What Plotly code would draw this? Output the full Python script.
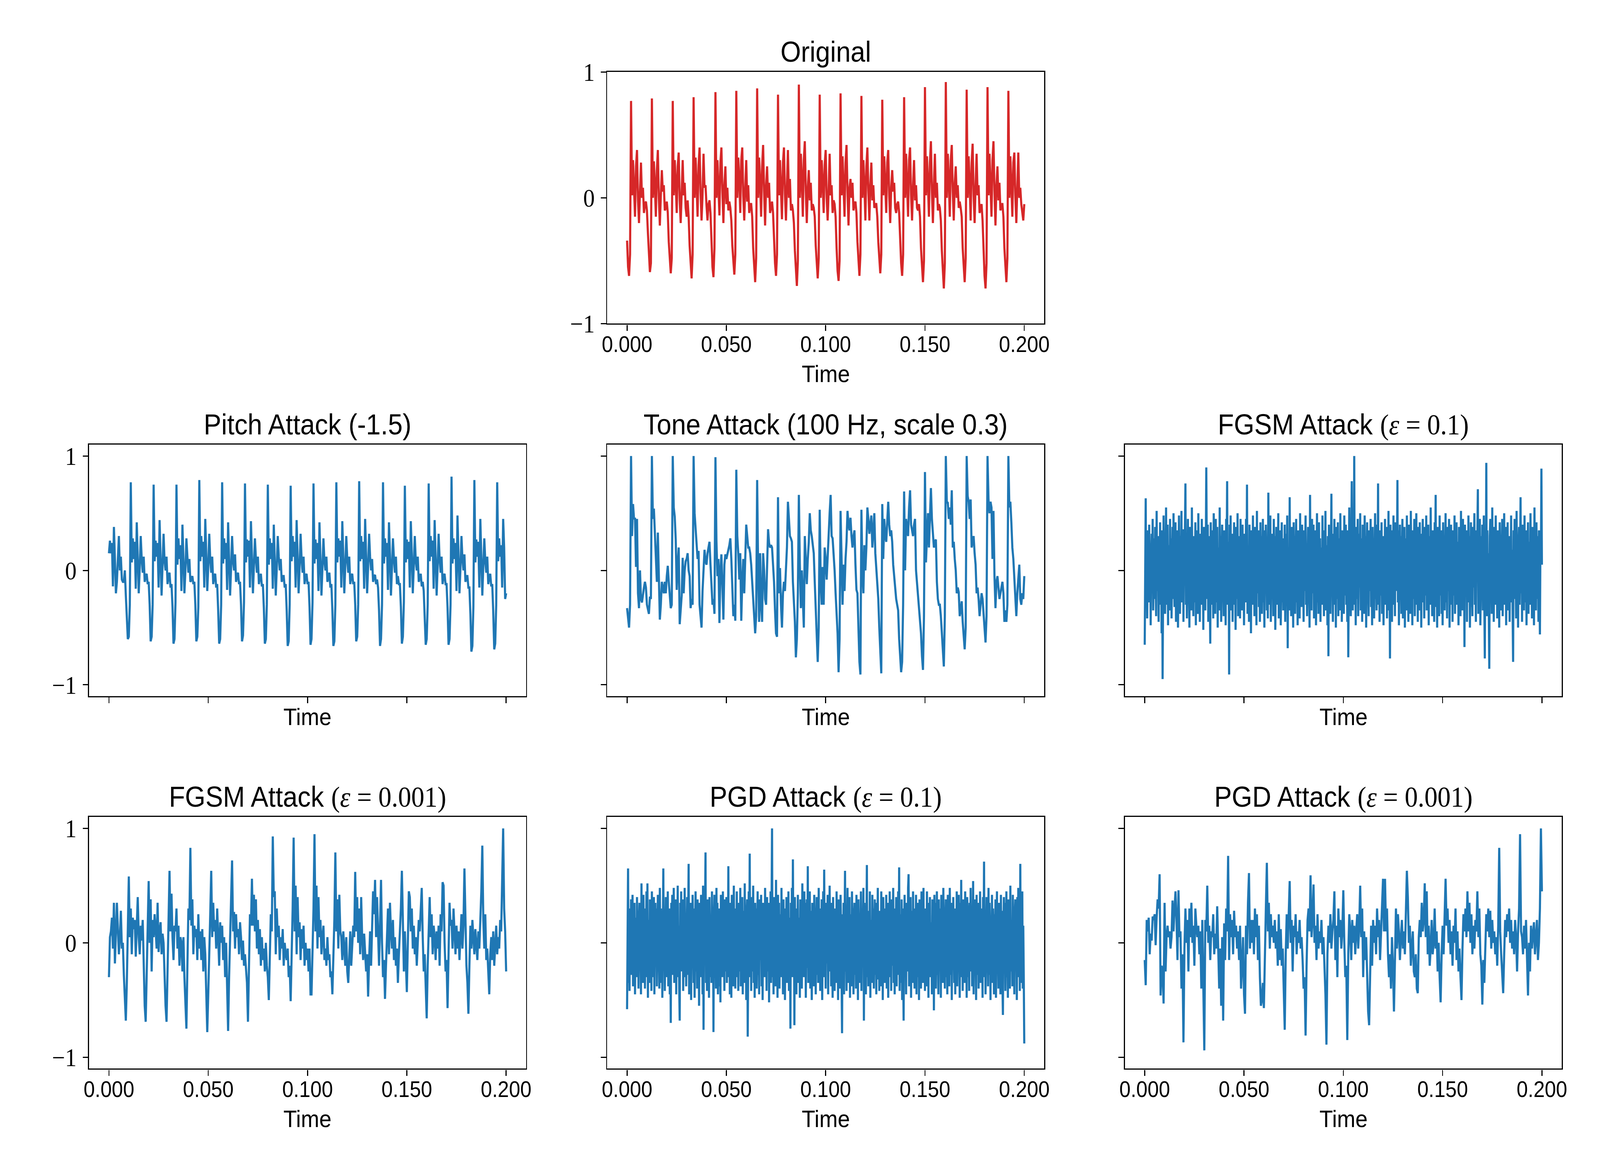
import numpy as np
import plotly.graph_objects as go

# waveforms, one sample every 0.5 ms over 0 .. 0.2 s
original = [
    -0.34, -0.55, -0.62, -0.45,
    0.77, 0.02, 0.30, 0.08, -0.15, 0.25, 0.38, -0.02, -0.20, 0.05, 0.28, 0.00, 0.08, -0.12, -0.05, -0.03, -0.10, -0.28, -0.45, -0.59, -0.52,
    0.79, 0.00, 0.29, 0.10, -0.15, 0.22, 0.38, 0.00, -0.22, 0.02, 0.22, 0.05, 0.10, -0.10, -0.08, -0.03, -0.12, -0.35, -0.50, -0.60, -0.48,
    0.77, 0.02, 0.30, 0.12, -0.12, 0.25, 0.36, -0.02, -0.20, 0.04, 0.30, 0.02, 0.12, -0.08, -0.15, -0.02, -0.15, -0.38, -0.55, -0.64, -0.45,
    0.80, 0.00, 0.32, 0.10, -0.15, 0.26, 0.40, 0.05, -0.18, 0.02, 0.35, 0.08, 0.10, -0.06, -0.18, -0.05, -0.02, -0.12, -0.40, -0.55, -0.63, -0.40,
    0.84, 0.00, 0.30, 0.12, -0.14, 0.28, 0.40, 0.05, -0.20, 0.10, 0.25, -0.05, 0.08, -0.10, -0.03, -0.08, -0.18, -0.38, -0.52, -0.61, -0.45,
    0.85, 0.00, 0.32, 0.15, -0.12, 0.30, 0.40, 0.02, -0.18, 0.08, 0.30, -0.03, 0.10, -0.12, -0.05, -0.05, -0.15, -0.40, -0.58, -0.67, -0.48,
    0.87, 0.00, 0.32, 0.12, -0.15, 0.25, 0.42, 0.05, -0.22, 0.10, 0.25, 0.00, 0.12, -0.12, -0.08, -0.03, -0.12, -0.35, -0.52, -0.62, -0.45,
    0.82, 0.02, 0.30, 0.10, -0.17, 0.28, 0.40, 0.03, -0.18, 0.10, 0.38, 0.00, 0.15, -0.10, -0.05, -0.10, -0.20, -0.42, -0.60, -0.70, -0.50,
    0.90, 0.00, 0.35, 0.15, -0.15, 0.30, 0.45, 0.05, -0.20, 0.08, 0.22, -0.02, 0.12, -0.10, -0.05, -0.08, -0.15, -0.38, -0.55, -0.64, -0.48,
    0.82, 0.00, 0.30, 0.12, -0.12, 0.26, 0.38, 0.00, -0.18, 0.05, 0.35, 0.02, 0.10, -0.12, -0.02, -0.05, -0.15, -0.40, -0.58, -0.66, -0.50,
    0.83, 0.02, 0.33, 0.12, -0.15, 0.28, 0.42, 0.05, -0.22, 0.08, 0.15, 0.00, 0.12, -0.10, -0.05, -0.03, -0.12, -0.35, -0.52, -0.62, -0.45,
    0.81, 0.00, 0.30, 0.10, -0.18, 0.25, 0.40, 0.05, -0.18, 0.10, 0.28, -0.02, 0.10, -0.08, -0.05, -0.05, -0.15, -0.35, -0.50, -0.60, -0.45,
    0.78, 0.02, 0.33, 0.10, -0.12, 0.28, 0.38, 0.02, -0.20, 0.08, 0.22, 0.05, 0.12, -0.08, -0.12, -0.05, -0.03, -0.12, -0.38, -0.52, -0.62, -0.45,
    0.80, 0.00, 0.35, 0.12, -0.15, 0.30, 0.40, 0.02, -0.18, 0.10, 0.30, -0.02, 0.10, -0.08, -0.10, -0.05, -0.15, -0.40, -0.58, -0.67, -0.50,
    0.88, 0.02, 0.33, 0.12, -0.15, 0.28, 0.45, 0.05, -0.20, 0.10, 0.35, 0.00, 0.12, -0.10, -0.05, -0.08, -0.18, -0.42, -0.62, -0.72, -0.52,
    0.92, 0.00, 0.35, 0.15, -0.15, 0.30, 0.42, 0.05, -0.18, 0.12, 0.25, 0.00, 0.10, -0.08, -0.03, -0.08, -0.15, -0.40, -0.58, -0.67, -0.48,
    0.86, 0.00, 0.33, 0.12, -0.18, 0.28, 0.43, 0.02, -0.20, 0.10, 0.35, 0.02, 0.10, -0.12, -0.08, -0.05, -0.18, -0.42, -0.62, -0.72, -0.52,
    0.88, 0.02, 0.35, 0.12, -0.15, 0.30, 0.45, 0.05, -0.22, 0.10, 0.25, -0.02, 0.12, -0.10, -0.05, -0.05, -0.15, -0.40, -0.58, -0.67, -0.48,
    0.85, 0.00, 0.33, 0.10, -0.15, 0.28, 0.36, 0.02, -0.20, 0.08, 0.36, 0.00, 0.08, -0.05, -0.12, -0.18, -0.05,
]

pitch_attack = [
    0.15, 0.26, 0.15, 0.24, -0.14, 0.38, 0.10, -0.20, -0.10, 0.10, 0.30, 0.00, 0.12, -0.08, -0.10, -0.10, 0.00, -0.22, -0.40, -0.60, -0.58, -0.30,
    0.77, 0.07, 0.28, 0.10, 0.25, -0.16, 0.42, 0.15, -0.20, 0.02, 0.30, 0.10, -0.02, 0.12, -0.10, -0.05, -0.03, -0.12, -0.10, -0.30, -0.62, -0.58, -0.30,
    0.75, 0.08, 0.26, 0.12, 0.24, -0.15, 0.44, 0.12, -0.22, 0.05, 0.32, 0.08, 0.00, 0.12, -0.12, -0.05, -0.02, -0.15, -0.12, -0.32, -0.64, -0.60, -0.28,
    0.75, 0.05, 0.28, 0.10, 0.22, -0.18, 0.40, 0.15, -0.20, 0.00, 0.28, 0.12, -0.02, 0.10, -0.10, -0.08, -0.05, -0.12, -0.10, -0.30, -0.62, -0.58, -0.32,
    0.79, 0.08, 0.30, 0.12, 0.25, -0.15, 0.45, 0.15, -0.18, 0.03, 0.32, 0.10, -0.02, 0.12, -0.12, -0.05, -0.03, -0.15, -0.12, -0.35, -0.64, -0.60, -0.30,
    0.77, 0.06, 0.28, 0.10, 0.24, -0.17, 0.42, 0.14, -0.22, 0.02, 0.30, 0.08, 0.00, 0.14, -0.10, -0.05, -0.02, -0.12, -0.10, -0.30, -0.62, -0.57, -0.28,
    0.76, 0.07, 0.27, 0.12, 0.26, -0.15, 0.43, 0.15, -0.20, 0.04, 0.28, 0.10, -0.02, 0.12, -0.12, -0.06, -0.03, -0.14, -0.12, -0.33, -0.64, -0.60, -0.30,
    0.75, 0.05, 0.28, 0.10, 0.24, -0.16, 0.40, 0.12, -0.22, 0.02, 0.30, 0.12, 0.00, 0.10, -0.10, -0.05, -0.05, -0.15, -0.12, -0.35, -0.66, -0.62, -0.30,
    0.74, 0.08, 0.30, 0.12, 0.25, -0.15, 0.44, 0.15, -0.20, 0.03, 0.32, 0.10, -0.02, 0.12, -0.12, -0.05, -0.03, -0.12, -0.10, -0.32, -0.65, -0.60, -0.28,
    0.76, 0.06, 0.27, 0.10, 0.24, -0.18, 0.42, 0.14, -0.22, 0.02, 0.28, 0.08, 0.00, 0.12, -0.10, -0.06, -0.02, -0.15, -0.12, -0.35, -0.66, -0.62, -0.30,
    0.77, 0.07, 0.28, 0.12, 0.26, -0.15, 0.43, 0.15, -0.20, 0.04, 0.30, 0.10, -0.02, 0.12, -0.12, -0.05, -0.03, -0.12, -0.10, -0.30, -0.62, -0.58, -0.30,
    0.78, 0.08, 0.30, 0.10, 0.25, -0.16, 0.45, 0.15, -0.20, 0.03, 0.32, 0.12, 0.00, 0.10, -0.10, -0.05, -0.04, -0.12, -0.08, -0.15, -0.35, -0.66, -0.60, -0.30,
    0.77, 0.06, 0.28, 0.12, 0.24, -0.17, 0.42, 0.14, -0.22, 0.02, 0.28, 0.10, -0.02, 0.12, -0.12, -0.05, -0.12, -0.12, -0.32, -0.64, -0.58, -0.28,
    0.74, 0.07, 0.27, 0.10, 0.25, -0.15, 0.43, 0.15, -0.20, 0.04, 0.30, 0.08, 0.00, 0.12, -0.10, -0.06, -0.03, -0.14, -0.10, -0.18, -0.38, -0.65, -0.60, -0.30,
    0.76, 0.08, 0.30, 0.12, 0.26, -0.16, 0.44, 0.15, -0.22, 0.03, 0.32, 0.10, -0.02, 0.12, -0.12, -0.05, -0.03, -0.12, -0.12, -0.33, -0.65, -0.60, -0.30,
    0.82, 0.06, 0.28, 0.10, 0.24, -0.18, 0.48, 0.18, -0.20, 0.02, 0.30, 0.10, 0.00, 0.14, -0.10, -0.05, -0.05, -0.15, -0.15, -0.38, -0.71, -0.66, -0.32,
    0.79, 0.07, 0.27, 0.12, 0.25, -0.15, 0.45, 0.15, -0.22, 0.04, 0.28, 0.08, -0.02, 0.12, -0.12, -0.06, -0.03, -0.14, -0.12, -0.36, -0.69, -0.64, -0.30,
    0.77, 0.08, 0.28, 0.12, 0.22, -0.15, 0.45, 0.20, -0.25, -0.20,
]

tone_attack = [
    -0.33, -0.42, -0.50, -0.30,
    1.00, 0.30, 0.58, 0.45, 0.46, 0.03, 0.45, -0.20, -0.33, 0.00, -0.25, -0.28, -0.20, -0.15, -0.10, -0.15, -0.30, -0.35, -0.38, -0.23, -0.25,
    1.00, 0.45, 0.54, 0.34, 0.10, -0.10, 0.33, 0.00, -0.43, -0.30, -0.10, -0.15, -0.20, -0.10, -0.20, -0.05, 0.04, -0.10, -0.25, -0.33, -0.30,
    1.00, 0.55, 0.47, 0.27, -0.17, 0.05, 0.20, -0.47, -0.30, -0.22, 0.11, -0.20, 0.00, 0.08, 0.10, 0.15, 0.00, -0.05, -0.33, -0.25, -0.30,
    1.00, 0.50, 0.36, 0.17, 0.10, 0.17, -0.30, -0.40, -0.50, -0.18, 0.05, 0.18, 0.08, 0.05, 0.15, 0.20, 0.25, 0.05, -0.15, -0.30, -0.25, -0.38,
    0.99, 0.26, -0.05, 0.10, -0.46, 0.00, 0.14, -0.20, -0.43, 0.05, 0.14, 0.10, 0.15, 0.18, 0.22, 0.28, 0.10, -0.15, -0.40, -0.30, -0.44,
    0.88, 0.30, 0.15, -0.08, 0.15, -0.44, -0.10, 0.10, -0.20, 0.10, 0.40, 0.30, 0.20, 0.20, 0.15, 0.05, -0.10, -0.20, -0.35, -0.55, -0.40,
    0.79, 0.00, -0.45, 0.15, -0.30, -0.45, 0.15, 0.00, -0.25, -0.30, 0.10, 0.36, 0.24, 0.20, 0.22, 0.20, 0.05, -0.10, -0.35, -0.55, -0.58,
    0.64, -0.20, 0.02, -0.30, -0.50, -0.20, -0.10, -0.18, 0.05, 0.20, 0.60, 0.40, 0.30, 0.28, 0.25, -0.10, -0.30, -0.45, -0.76, -0.60, -0.20,
    0.66, 0.05, -0.33, 0.00, -0.30, -0.50, 0.30, 0.05, -0.12, 0.10, 0.25, 0.50, 0.35, 0.30, 0.20, 0.15, -0.10, -0.35, -0.60, -0.80, -0.50,
    0.53, -0.10, -0.30, 0.03, -0.30, 0.20, 0.10, -0.08, 0.15, 0.35, 0.50, 0.66, 0.30, 0.28, 0.15, 0.00, -0.20, -0.40, -0.55, -0.89, -0.60,
    0.52, 0.00, -0.30, 0.05, -0.18, 0.10, 0.25, 0.52, 0.40, 0.35, 0.46, 0.30, 0.20, 0.30, 0.35, 0.05, -0.17, -0.20, -0.50, -0.80, -0.91,
    0.53, 0.00, -0.20, 0.22, 0.00, 0.20, 0.55, 0.45, 0.32, 0.40, 0.48, 0.20, 0.35, 0.50, 0.15, 0.00, -0.10, -0.25, -0.50, -0.75, -0.90,
    0.58, 0.10, 0.45, 0.30, 0.25, 0.40, 0.60, 0.40, 0.30, 0.35, 0.25, 0.05, -0.05, -0.20, -0.25, -0.30, -0.35, -0.60, -0.75, -0.89, -0.80, -0.30,
    0.69, 0.00, 0.45, 0.35, 0.30, 0.55, 0.70, 0.40, 0.35, 0.30, 0.40, 0.45, 0.00, -0.10, -0.20, -0.30, -0.45, -0.55, -0.75, -0.87, -0.40,
    0.86, 0.07, 0.35, 0.50, 0.20, 0.45, 0.72, 0.45, 0.30, 0.20, 0.25, 0.27, -0.10, -0.25, -0.30, -0.30, -0.40, -0.55, -0.70, -0.84, -0.40,
    1.00, 0.60, 0.59, 0.45, 0.55, 0.40, 0.70, 0.20, 0.25, 0.10, 0.00, -0.20, -0.15, -0.19, -0.40, -0.35, -0.27, -0.45, -0.55, -0.69, -0.50,
    1.00, 0.65, 0.60, 0.45, 0.62, 0.20, 0.25, 0.30, 0.15, 0.05, -0.20, -0.15, -0.25, -0.40, -0.30, -0.20, -0.25, -0.38, -0.55, -0.63, -0.40,
    1.00, 0.62, 0.50, 0.60, 0.55, 0.10, 0.52, -0.05, -0.33, -0.10, -0.05, -0.15, -0.25, -0.20, -0.15, -0.10, -0.20, -0.45, -0.35, -0.45, -0.30,
    1.00, 0.55, 0.60, 0.42, 0.20, 0.10, -0.10, -0.30, -0.40, -0.20, -0.10, 0.05, -0.25, -0.30, -0.20, -0.25, -0.05,
]

# the two strong attacks are dense noise bands: read at 0.25 ms steps
fgsm_eps_01 = [
    -0.65, 0.20, 0.63, -0.30, 0.15, -0.42, 0.35, 0.05, -0.28, 0.40, -0.15, 0.22, -0.48, 0.10, 0.32, -0.20, 0.45, -0.35, 0.05, 0.28,
    -0.25, 0.38, -0.10, -0.40, 0.52, -0.18, 0.12, 0.30, -0.45, 0.25, -0.05, 0.42, -0.30, 0.18, -0.55, 0.35, -0.95, 0.10, 0.48, -0.22,
    0.30, -0.38, 0.15, 0.55, -0.12, -0.30, 0.40, -0.48, 0.22, 0.05, -0.35, 0.45, -0.15, 0.28, -0.42, 0.12, 0.38, -0.25, 0.50, -0.08,
    -0.32, 0.20, 0.42, -0.45, 0.10, -0.20, 0.35, -0.50, 0.25, 0.48, -0.10, -0.38, 0.30, -0.15, 0.52, -0.28, 0.08, 0.36, -0.45, 0.18,
    -0.05, 0.40, 0.76, -0.30, 0.12, -0.42, 0.28, 0.45, -0.20, 0.05, -0.50, 0.38, -0.12, 0.25, -0.35, 0.55, -0.08, 0.15, -0.40, 0.30,
    0.10, -0.28, 0.42, -0.48, 0.20, 0.35, -0.15, -0.38, 0.50, -0.05, 0.22, -0.45, 0.32, 0.08, -0.30, 0.45, -0.22, 0.12, -0.52, 0.38,
    -0.10, 0.28, -0.35, 0.15, 0.90, 0.20, -0.25, 0.40, -0.45, 0.10, 0.30, -0.20, -0.64, 0.42, 0.05, 0.35, -0.30, 0.18, -0.42, 0.50,
    -0.15, 0.25, -0.38, 0.45, 0.02, -0.28, 0.38, -0.50, 0.20, 0.12, -0.35, 0.55, -0.10, 0.30, -0.45, 0.15, 0.40, -0.25, 0.08, -0.40,
    0.35, -0.12, 0.28, -0.48, 0.45, 0.10, 0.78, -0.30, -0.05, 0.25, -0.91, 0.40, -0.20, 0.48, -0.35, 0.15, 0.32, -0.45, 0.22, -0.10,
    0.42, -0.30, 0.12, -0.52, 0.38, 0.05, -0.25, 0.50, -0.40, 0.18, 0.30, -0.15, -0.42, 0.45, -0.08, 0.25, -0.35, 0.40, -0.20, 0.10,
    -0.48, 0.32, 0.15, -0.28, 0.45, -0.12, 0.75, -0.38, 0.20, 0.05, -0.45, 0.40, -0.18, 0.28, -0.55, 0.35, 0.08, -0.30, 0.48, -0.22,
    0.12, -0.40, 0.38, -0.05, 0.25, -0.48, 0.52, -0.20, 0.10, 0.35, -0.32, 0.18, -0.45, 0.42, -0.12, 0.30, -0.38, 0.05, 0.45, -0.28,
    0.20, -0.50, 0.35, -0.15, 0.40, 0.08, -0.35, 0.28, -0.42, 0.68, -0.10, 0.22, -0.30, 0.48, -0.45, 0.15, 0.32, -0.25, 0.05, -0.40,
    0.45, -0.18, 0.30, -0.52, 0.12, 0.38, -0.30, 0.20, -0.05, 0.50, -0.42, 0.25, -0.15, 0.35, -0.48, 0.10, 0.42, -0.28, 0.18, -0.35,
    0.28, -0.10, 0.40, -0.45, 0.15, 0.32, -0.22, 0.48, -0.68, 0.20, 0.05, -0.35, 0.64, -0.25, 0.12, -0.40, 0.38, -0.08, 0.25, -0.50,
    0.42, -0.15, 0.30, -0.38, 0.10, 0.45, -0.28, 0.18, -0.48, 0.35, -0.05, 0.22, -0.42, 0.50, -0.20, 0.12, -0.32, 0.40, -0.10, 0.28,
    -0.45, 0.35, -0.18, 0.08, 0.48, -0.30, 0.22, -0.40, 0.15, 0.38, -0.25, 0.05, -0.50, 0.66, -0.12, 0.30, -0.35, 0.45, -0.20, 0.10,
    0.40, -0.42, 0.25, -0.08, 0.35, -0.48, 0.18, 0.50, -0.28, 0.12, -0.38, 0.42, -0.15, 0.28, -0.45, 0.20, 0.05, -0.30, 0.48, -0.22,
    0.15, -0.40, 0.35, -0.10, 0.52, -0.35, 0.22, 0.08, -0.48, 0.30, -0.75, 0.40, -0.15, 0.25, -0.38, 0.45, 0.67, -0.20, 0.10, -0.45,
    0.32, -0.12, 0.45, -0.30, 0.18, -0.50, 0.38, 0.05, -0.25, 0.42, -0.40, 0.15, 0.28, -0.35, 0.50, -0.08, 0.20, -0.45, 0.35, -0.15,
    0.25, -0.38, 0.48, -0.22, 0.10, 0.40, -0.30, 0.15, -0.45, 0.35, -0.76, 0.20, 0.55, -0.15, 0.30, -0.40, 0.45, 0.78, -0.10, -0.35,
    0.25, -0.20, 1.00, -0.30, 0.15, -0.48, 0.38, 0.05, -0.25, 0.45, -0.40, 0.20, 0.32, -0.15, 0.50, -0.35, 0.10, 0.28, -0.45, 0.40,
    -0.12, 0.22, -0.38, 0.48, -0.05, 0.30, -0.50, 0.15, 0.42, -0.28, 0.08, -0.40, 0.35, -0.18, 0.25, 0.45, -0.32, 0.12, -0.48, 0.38,
    -0.10, 0.28, -0.42, 0.20, 0.50, -0.25, 0.15, -0.35, 0.40, -0.05, 0.76, -0.30, 0.18, -0.45, 0.35, 0.08, -0.22, 0.42, -0.38, 0.12,
    0.30, -0.48, 0.25, -0.15, 0.45, -0.30, 0.05, 0.38, -0.42, 0.20, -0.10, 0.52, -0.35, 0.15, -0.77, 0.40, -0.20, 0.28, -0.45, 0.35,
    -0.05, 0.48, -0.30, 0.12, -0.40, 0.42, -0.18, 0.25, 0.05, 0.79, -0.28, 0.35, -0.48, 0.15, 0.40, -0.22, 0.30, -0.38, 0.10, 0.45,
    -0.42, 0.20, -0.12, 0.38, -0.50, 0.28, 0.08, -0.35, 0.48, -0.20, 0.15, -0.45, 0.40, -0.05, 0.30, -0.38, 0.52, -0.15, 0.22, -0.48,
    0.35, -0.25, 0.10, 0.45, -0.40, 0.18, -0.30, 0.50, -0.10, 0.28, -0.45, 0.38, 0.05, -0.35, 0.42, -0.18, 0.25, -0.50, 0.32, -0.08,
    0.45, -0.28, 0.15, -0.42, 0.38, 0.10, -0.22, 0.48, -0.35, 0.20, -0.12, 0.40, -0.48, 0.30, 0.05, -0.30, 0.55, -0.20, 0.12, -0.40,
    0.35, -0.15, 0.25, -0.45, 0.42, 0.08, 0.66, -0.32, 0.18, -0.50, 0.38, -0.05, 0.28, -0.40, 0.48, -0.22, 0.10, 0.35, -0.38, 0.15,
    -0.48, 0.42, -0.10, 0.30, -0.35, 0.20, 0.50, -0.28, 0.05, -0.42, 0.38, -0.18, 0.25, 0.45, -0.50, 0.12, -0.30, 0.40, -0.08, 0.28,
    -0.45, 0.35, 0.15, -0.22, 0.48, -0.38, 0.10, -0.15, 0.42, -0.30, 0.25, 0.05, -0.48, 0.38, -0.12, 0.30, -0.40, 0.52, -0.20, 0.18,
    -0.35, 0.45, -0.05, 0.25, -0.67, 0.40, -0.18, 0.12, 0.35, -0.45, 0.20, -0.28, 0.48, -0.10, 0.30, -0.50, 0.15, 0.42, -0.32, 0.08,
    -0.40, 0.38, -0.15, 0.25, 0.50, -0.30, 0.12, -0.45, 0.35, -0.05, 0.28, 0.71, -0.38, 0.20, -0.25, 0.45, -0.48, 0.15, 0.30, -0.20,
    0.40, -0.35, 0.10, 0.48, -0.28, -0.77, 0.25, -0.12, 0.94, -0.40, 0.35, -0.20, 0.15, -0.50, -0.86, 0.30, 0.45, -0.25, 0.12, -0.38,
    0.55, -0.15, 0.28, -0.45, 0.38, 0.05, -0.30, 0.48, -0.20, 0.18, -0.42, 0.35, -0.08, 0.25, -0.50, 0.42, -0.12, 0.30, -0.35, 0.15,
    0.45, -0.40, 0.20, -0.18, 0.50, -0.30, 0.10, 0.38, -0.48, 0.25, -0.05, 0.42, -0.35, 0.15, 0.30, -0.45, 0.22, -0.12, 0.48, -0.28,
    0.18, -0.38, -0.80, 0.35, -0.10, 0.45, -0.25, 0.12, -0.42, 0.52, -0.15, 0.28, -0.50, 0.20, 0.38, -0.30, 0.08, 0.64, -0.20, 0.30,
    -0.45, 0.40, -0.12, 0.22, -0.35, 0.48, -0.28, 0.10, 0.35, -0.48, 0.18, -0.05, 0.42, -0.38, 0.25, 0.15, -0.30, 0.50, -0.20, 0.12,
    -0.42, 0.38, -0.15, 0.28, -0.48, 0.55, -0.10, 0.20, -0.35, 0.42, -0.25, 0.12, 0.30, -0.45, 0.35, -0.18, -0.56, 0.25, 0.10, 0.89,
    0.05,
]

pgd_eps_01 = [
    -0.58, 0.15, 0.65, -0.35, 0.20, -0.42, 0.30, -0.10, 0.38, -0.28, 0.12, 0.42, -0.38, 0.05, -0.25, 0.35, -0.45, 0.22, 0.10, -0.30,
    0.40, -0.15, 0.28, -0.40, 0.18, 0.35, -0.22, 0.05, -0.45, 0.52, -0.12, 0.25, -0.35, 0.42, -0.05, 0.15, -0.40, 0.30, -0.20, 0.45,
    -0.30, 0.52, -0.48, 0.20, 0.08, -0.35, 0.38, -0.15, 0.28, -0.42, 0.45, -0.08, 0.22, -0.30, 0.40, -0.45, 0.12, 0.35, -0.20, 0.30,
    -0.38, 0.15, 0.42, -0.25, 0.05, -0.40, 0.48, -0.12, 0.30, -0.35, 0.20, -0.48, 0.38, 0.65, -0.18, 0.25, -0.42, 0.10, 0.40, -0.30,
    0.22, -0.15, 0.45, -0.38, 0.12, 0.30, -0.45, 0.18, -0.70, 0.35, -0.05, 0.42, -0.28, 0.20, 0.48, -0.35, 0.10, -0.22, 0.38, -0.45,
    0.28, -0.12, 0.50, -0.30, 0.15, -0.40, -0.68, 0.35, -0.05, 0.45, -0.25, 0.20, 0.38, -0.42, 0.10, -0.30, 0.48, -0.18, 0.25, -0.38,
    0.12, 0.40, -0.28, 0.22, 0.69, -0.45, 0.18, -0.10, 0.35, -0.50, 0.28, -0.20, 0.42, 0.05, -0.35, 0.30, -0.48, 0.15, 0.45, -0.25,
    0.20, -0.40, 0.38, -0.12, 0.28, -0.55, 0.35, 0.10, -0.30, 0.42, -0.20, 0.15, -0.45, 0.50, -0.76, 0.25, -0.10, 0.30, 0.79, -0.35,
    0.15, -0.42, 0.38, -0.20, 0.28, -0.48, 0.40, 0.05, -0.30, 0.22, -0.35, 0.45, -0.15, 0.30, -0.78, 0.18, 0.42, -0.25, 0.10, -0.40,
    0.48, -0.22, 0.35, -0.45, 0.12, 0.30, -0.38, 0.20, -0.52, 0.42, -0.08, 0.25, -0.30, 0.45, -0.18, 0.10, -0.42, 0.38, -0.25, 0.15,
    0.40, -0.35, 0.22, -0.10, 0.67, -0.30, 0.18, -0.45, 0.35, 0.05, -0.48, 0.42, -0.15, 0.28, -0.38, 0.50, -0.20, 0.12, -0.40, 0.30,
    -0.08, 0.45, -0.30, 0.20, -0.42, 0.35, 0.10, -0.25, 0.48, -0.38, 0.15, -0.12, 0.40, -0.45, 0.28, 0.05, -0.35, 0.52, -0.20, 0.30,
    -0.50, 0.25, 0.38, -0.82, 0.15, 0.45, -0.30, 0.78, -0.10, 0.28, -0.42, 0.40, -0.25, 0.12, 0.50, -0.35, 0.20, -0.48, 0.35, -0.05,
    0.30, -0.40, 0.22, 0.45, -0.28, 0.10, -0.45, 0.38, -0.15, 0.25, 0.42, -0.38, 0.18, -0.50, 0.35, -0.12, 0.28, -0.30, 0.48, -0.20,
    0.10, -0.42, 0.40, -0.25, 0.15, 0.35, -0.52, 0.20, -0.08, 0.45, -0.35, 0.28, 1.00, -0.30, 0.22, -0.45, 0.40, -0.15, 0.30, -0.38,
    0.55, -0.20, 0.12, -0.48, 0.42, -0.10, 0.35, -0.40, 0.25, 0.05, -0.30, 0.48, -0.18, 0.28, -0.45, 0.38, -0.12, 0.20, -0.50, 0.30,
    -0.05, 0.40, -0.35, 0.15, -0.25, 0.45, -0.42, 0.22, 0.10, -0.75, 0.35, -0.18, 0.48, -0.30, 0.73, -0.10, 0.25, -0.72, 0.40, -0.20,
    0.15, -0.45, 0.30, -0.12, 0.42, -0.35, 0.22, 0.05, -0.48, 0.38, -0.20, 0.28, -0.40, 0.52, -0.15, 0.10, -0.30, 0.45, -0.25, 0.35,
    -0.48, 0.12, 0.38, -0.22, 0.67, -0.35, 0.20, -0.10, 0.45, -0.40, 0.28, 0.05, -0.50, 0.35, -0.15, 0.25, -0.38, 0.42, -0.08, 0.30,
    -0.45, 0.18, 0.40, -0.28, 0.12, -0.35, 0.48, -0.20, 0.30, -0.42, 0.22, -0.05, 0.38, -0.50, 0.15, 0.45, -0.30, 0.64, -0.12, 0.25,
    -0.40, 0.35, -0.18, 0.10, 0.42, -0.45, 0.28, -0.25, 0.50, -0.08, 0.20, -0.38, 0.35, 0.12, -0.48, 0.40, -0.15, 0.25, -0.42, 0.30,
    0.05, -0.35, 0.45, -0.20, 0.18, -0.50, 0.38, -0.10, 0.28, -0.40, 0.42, 0.15, -0.30, -0.79, 0.25, -0.15, 0.35, -0.45, 0.10, 0.63,
    -0.25, 0.30, -0.42, 0.18, 0.48, -0.35, 0.12, -0.20, 0.40, -0.48, 0.25, 0.05, -0.38, 0.45, -0.12, 0.30, -0.45, 0.22, 0.35, -0.28,
    0.15, -0.40, 0.42, -0.10, 0.28, -0.50, 0.38, 0.08, -0.35, 0.20, -0.25, 0.45, -0.42, 0.30, -0.15, 0.12, 0.48, -0.68, 0.35, -0.20,
    0.22, -0.45, 0.40, 0.68, -0.30, 0.10, -0.38, 0.28, -0.15, 0.45, -0.48, 0.20, 0.05, -0.35, 0.42, -0.22, 0.30, -0.40, 0.15, 0.38,
    -0.28, 0.12, -0.45, 0.35, -0.08, 0.48, -0.32, 0.20, -0.42, 0.28, 0.10, -0.38, 0.45, -0.18, 0.25, -0.50, 0.40, -0.05, 0.30, -0.35,
    0.18, -0.25, 0.42, -0.40, 0.15, 0.35, -0.48, 0.22, -0.12, 0.45, -0.30, 0.10, -0.42, 0.38, -0.20, 0.28, 0.48, -0.35, 0.05, -0.45,
    0.30, -0.15, 0.40, -0.38, 0.20, -0.28, 0.45, -0.10, 0.66, -0.42, 0.25, 0.12, -0.35, 0.38, -0.50, 0.30, -0.20, -0.68, 0.15, 0.42,
    -0.30, 0.22, -0.45, 0.35, 0.05, -0.25, 0.48, 0.60, -0.38, 0.18, -0.12, 0.40, -0.48, 0.28, 0.10, -0.35, 0.45, -0.22, 0.30, -0.40,
    0.15, -0.08, 0.42, -0.45, 0.25, 0.35, -0.30, 0.18, -0.50, 0.38, -0.15, 0.28, -0.40, 0.45, -0.05, 0.20, -0.35, 0.48, -0.25, 0.12,
    -0.42, 0.30, 0.10, -0.38, 0.45, -0.20, 0.25, -0.48, 0.35, -0.12, 0.40, -0.30, 0.18, 0.05, -0.45, 0.38, -0.22, 0.28, -0.59, 0.42,
    -0.10, 0.35, -0.40, 0.20, 0.45, -0.28, 0.12, -0.45, 0.38, -0.18, 0.30, 0.05, -0.48, 0.42, -0.25, 0.15, -0.35, 0.48, -0.12, 0.28,
    -0.40, 0.20, 0.38, -0.30, 0.10, -0.45, 0.42, -0.15, 0.25, -0.38, 0.48, 0.08, -0.28, 0.35, -0.50, 0.22, -0.18, 0.40, 0.12, -0.35,
    0.30, -0.45, 0.18, -0.10, 0.45, -0.38, 0.28, -0.22, 0.42, 0.05, -0.48, 0.35, -0.15, 0.55, -0.30, 0.20, -0.42, 0.38, -0.08, 0.25,
    -0.35, 0.45, -0.20, 0.12, -0.48, 0.40, 0.28, -0.30, 0.15, -0.42, 0.35, -0.10, 0.48, -0.25, 0.20, -0.38, 0.30, 0.54, -0.45, 0.10,
    0.38, -0.15, 0.25, -0.50, 0.42, -0.28, 0.12, 0.35, -0.40, 0.20, -0.05, 0.45, -0.35, 0.30, -0.22, 0.15, -0.48, 0.40, -0.10, 0.71,
    -0.30, 0.28, -0.45, 0.18, 0.40, -0.20, 0.12, -0.38, 0.48, -0.28, 0.35, 0.05, -0.50, 0.22, -0.15, 0.42, -0.35, 0.30, 0.10, -0.45,
    0.25, -0.12, 0.38, -0.48, 0.30, 0.45, -0.25, 0.15, -0.40, 0.35, -0.08, 0.20, -0.45, 0.42, -0.18, 0.28, -0.35, -0.63, 0.12, 0.40,
    -0.22, 0.35, -0.42, 0.18, 0.45, -0.30, 0.10, -0.48, 0.38, -0.15, 0.28, -0.40, 0.50, -0.25, 0.20, 0.05, -0.38, 0.42, -0.12, 0.30,
    -0.45, 0.25, 0.38, -0.20, 0.12, -0.50, 0.40, -0.30, 0.48, -0.15, 0.22, -0.42, 0.69, -0.35, 0.30, -0.25, 0.45, -0.40, 0.15, -0.30,
    -0.88,
]

fgsm_eps_0001 = [
    -0.30, 0.05, 0.10, 0.22, -0.05, 0.35, -0.18, 0.05, 0.35, 0.12, -0.10, 0.05, 0.28, -0.05, 0.00, -0.28, -0.55, -0.68, -0.35, 0.15, 0.58,
    0.05, 0.30, -0.10, 0.22, 0.12, 0.20, -0.12, 0.15, 0.40, 0.05, -0.10, 0.15, 0.02, 0.20, -0.30, -0.55, -0.69, -0.20, 0.10, 0.54,
    0.00, 0.38, -0.25, 0.20, 0.05, 0.25, 0.12, -0.05, 0.35, -0.08, 0.10, 0.18, -0.10, 0.08, 0.00, -0.30, -0.55, -0.69, -0.30, 0.05, 0.63,
    0.10, 0.43, 0.05, -0.15, 0.15, 0.10, 0.30, -0.05, 0.15, -0.20, 0.05, 0.00, -0.25, 0.05, -0.30, -0.55, -0.75, -0.20, 0.30, 0.20, 0.83,
    0.15, 0.38, -0.10, 0.15, 0.05, 0.12, -0.15, 0.25, -0.05, 0.10, -0.15, 0.12, -0.25, 0.05, -0.10, -0.45, -0.78, -0.45, 0.00, 0.25, 0.63,
    0.05, 0.35, 0.10, 0.20, -0.05, 0.30, 0.10, -0.20, 0.18, 0.00, 0.15, -0.15, 0.05, -0.30, 0.00, -0.40, -0.77, -0.30, 0.10, 0.35, 0.72,
    0.10, 0.27, -0.05, 0.25, 0.05, 0.12, -0.10, 0.18, 0.05, -0.15, 0.02, -0.20, -0.10, -0.25, -0.35, -0.69, -0.20, 0.25, 0.15, 0.56,
    0.15, 0.42, 0.10, 0.38, -0.05, 0.20, -0.10, 0.12, -0.20, 0.05, -0.15, -0.05, -0.25, 0.00, -0.20, -0.30, -0.50, -0.10, 0.25, 0.10, 0.93,
    0.40, 0.45, -0.10, 0.30, 0.05, 0.15, -0.15, 0.05, -0.05, 0.12, -0.20, 0.00, -0.10, -0.15, -0.05, -0.30, -0.20, -0.51, -0.10, 0.30, 0.92,
    0.10, 0.50, -0.10, 0.40, 0.05, 0.18, -0.15, 0.12, -0.05, 0.15, -0.20, 0.00, -0.15, -0.05, -0.25, -0.05, -0.45, -0.45, -0.05, 0.30, 0.95,
    0.10, 0.50, -0.05, 0.40, 0.05, 0.20, -0.10, 0.05, 0.15, -0.15, -0.05, -0.20, 0.05, -0.15, -0.10, -0.30, -0.25, -0.45, -0.10, 0.20, 0.79,
    0.10, 0.38, -0.05, 0.42, 0.10, 0.05, -0.15, 0.10, -0.05, -0.20, 0.05, -0.25, -0.35, -0.10, 0.10, -0.20, -0.05, 0.15, 0.05, 0.62,
    0.10, 0.40, 0.00, 0.30, -0.10, 0.40, 0.05, -0.15, 0.08, -0.10, -0.25, -0.10, -0.47, -0.15, 0.10, -0.20, 0.15, 0.45, 0.25, 0.55,
    0.05, 0.40, 0.10, -0.20, 0.15, 0.55, 0.00, -0.30, -0.15, -0.49, -0.20, 0.05, 0.30, -0.10, 0.35, 0.10, -0.05, 0.20, -0.15, 0.05,
    -0.20, -0.05, -0.35, -0.10, 0.10, 0.30, 0.63,
    0.05, -0.25, 0.10, -0.20, -0.43, 0.00, 0.45, 0.40, 0.10, 0.30, -0.05, 0.15, -0.10, 0.05, -0.20, 0.00, 0.20, 0.10, 0.25, 0.48,
    0.05, -0.25, -0.10, -0.45, -0.66, -0.20, 0.20, 0.40, 0.05, 0.25, -0.10, 0.15, 0.05, -0.15, 0.10, -0.05, 0.15, -0.20, 0.25, 0.10, 0.53,
    0.50, 0.00, -0.25, -0.15, -0.57, -0.10, 0.35, 0.15, 0.20, -0.05, 0.30, 0.10, -0.10, 0.15, -0.05, 0.10, -0.15, 0.05, 0.25, -0.05, 0.15, 0.65,
    0.10, -0.20, -0.35, -0.62, -0.20, 0.15, -0.05, 0.20, 0.05, -0.10, 0.12, 0.00, -0.15, 0.10, -0.05, 0.20, 0.45, 0.85,
    0.20, -0.05, 0.25, -0.15, -0.05, -0.25, -0.45, -0.10, 0.05, -0.15, 0.10, -0.20, 0.00, 0.15, -0.10, 0.05, -0.05, 0.20, 0.10, 0.60,
    1.00, 0.30, 0.10, -0.25,
]

pgd_eps_0001 = [
    -0.15, -0.37, 0.20, 0.10, 0.22, -0.10, 0.08, 0.02, 0.23, 0.20, 0.25, -0.02, 0.22, 0.38, 0.30, 0.60, -0.46, -0.20, -0.25, -0.53,
    0.35, -0.25, 0.05, 0.15, 0.05, 0.10, -0.05, 0.05, 0.37, 0.10, 0.30, 0.45, 0.20, -0.15, 0.46, 0.05, 0.10, -0.40, -0.10, -0.87,
    -0.05, 0.30, 0.00, 0.20, -0.25, 0.30, 0.05, 0.35, 0.00, 0.15, -0.20, 0.30, 0.15, 0.05, 0.15, -0.10, 0.10, -0.40, 0.20, -0.50,
    -0.94, 0.20, 0.10, 0.50, 0.00, 0.15, -0.15, 0.10, 0.05, 0.25, -0.10, 0.08, -0.05, 0.32, 0.00, -0.40, -0.05, -0.55, 0.05, -0.68,
    0.17, -0.15, 0.30, 0.10, 0.76, -0.15, 0.25, 0.05, 0.20, -0.10, 0.28, 0.05, 0.15, -0.05, 0.10, -0.15, 0.15, -0.40, -0.20, 0.05,
    -0.45, -0.62, 0.15, -0.10, 0.35, 0.61, -0.05, 0.20, 0.00, 0.20, -0.10, 0.30, 0.05, 0.25, -0.15, 0.15, -0.30, -0.55, -0.50, -0.35,
    -0.57, 0.02, 0.30, 0.70, 0.10, 0.35, -0.05, 0.25, 0.05, 0.15, 0.00, 0.20, -0.05, 0.10, -0.20, 0.25, -0.15, 0.12, -0.20, -0.05,
    -0.40, -0.76, -0.10, 0.25, -0.05, 0.30, 0.54, 0.00, 0.20, -0.25, 0.15, 0.05, 0.25, -0.10, 0.10, 0.00, 0.20, -0.05, 0.05, -0.15,
    -0.40, -0.30, -0.81, -0.20, 0.20, 0.30, 0.10, 0.59, 0.05, 0.20, 0.51, 0.00, 0.15, -0.15, 0.25, -0.05, 0.10, 0.00, 0.20, -0.10,
    0.05, -0.20, -0.45, -0.89, -0.10, 0.15, 0.00, 0.25, -0.05, 0.10, 0.20, 0.45, -0.15, 0.15, -0.30, 0.30, 0.05, 0.20, -0.05, 0.10,
    0.46, 0.00, -0.30, -0.20, -0.85, -0.10, 0.25, 0.10, -0.15, 0.20, 0.00, 0.15, -0.10, 0.10, 0.25, -0.05, 0.15, 0.50, 0.05, 0.30,
    -0.30, 0.10, -0.15, 0.05, -0.35, -0.60, -0.72, -0.30, 0.15, -0.20, 0.20, 0.00, 0.15, -0.10, 0.30, 0.05, 0.20, -0.15, 0.10, 0.40,
    0.56, 0.10, 0.56, 0.10, 0.30, -0.10, -0.30, -0.10, -0.40, 0.05, -0.20, -0.60, -0.15, 0.30, -0.05, 0.25, 0.10, -0.15, 0.05, 0.20,
    -0.05, 0.10, -0.10, 0.35, 0.63, 0.40, 0.00, 0.15, -0.20, -0.05, 0.10, -0.25, -0.30, -0.10, -0.40, -0.44, 0.05, 0.20, 0.05, 0.35,
    0.10, 0.20, 0.52, 0.05, 0.45, -0.10, 0.15, -0.20, -0.05, 0.20, -0.10, 0.00, 0.30, -0.05, 0.10, -0.25, 0.00, -0.30, -0.52, -0.10,
    0.15, -0.10, 0.25, 0.56, 0.15, 0.30, 0.00, 0.20, -0.10, 0.10, -0.20, 0.15, 0.00, 0.30, -0.15, 0.10, -0.25, -0.05, -0.30, -0.50,
    -0.05, 0.25, 0.10, 0.30, 0.05, 0.45, 0.10, 0.35, 0.00, 0.25, -0.10, 0.15, -0.05, 0.20, 0.10, 0.45, 0.05, 0.30, -0.10, -0.20,
    -0.54, -0.15, -0.35, -0.10, 0.25, 0.10, 0.30, 0.05, 0.28, -0.05, 0.20, 0.00, 0.10, -0.10, 0.05, -0.20, 0.15, 0.83, 0.10, -0.10,
    -0.30, -0.44, -0.10, 0.20, 0.05, 0.25, 0.10, 0.30, 0.00, 0.20, -0.05, 0.10, -0.10, 0.20, 0.05, -0.25, 0.10, 0.30, 0.95, 0.10,
    0.05, -0.10, 0.15, -0.05, 0.20, -0.20, -0.46, 0.00, -0.25, 0.15, -0.05, 0.08, 0.18, -0.10, 0.05, 0.20, -0.15, 0.00, 0.30, 1.00,
    0.45,
]

x_tickvals = [0, 0.05, 0.1, 0.15, 0.2]
x_ticktext = ['0.000', '0.050', '0.100', '0.150', '0.200']
y_tickvals = [-1, 0, 1]
y_ticktext = ['\u22121', '0', '1']

RED = '#d62728'
BLUE = '#1f77b4'
SANS = 'Liberation Sans'
SERIF = 'Liberation Serif'


def eps_title(name, eps):
    return (f'{name} <span style="font-family:{SERIF}">'
            f'(<i>\u03b5</i> = {eps})</span>')


# (values, title, colour, row, col)
panels = [
    (original, 'Original', RED, 0, 1),
    (pitch_attack, 'Pitch Attack (-1.5)', BLUE, 1, 0),
    (tone_attack, 'Tone Attack (100 Hz, scale 0.3)', BLUE, 1, 1),
    (fgsm_eps_01, eps_title('FGSM Attack', '0.1'), BLUE, 1, 2),
    (fgsm_eps_0001, eps_title('FGSM Attack', '0.001'), BLUE, 2, 0),
    (pgd_eps_01, eps_title('PGD Attack', '0.1'), BLUE, 2, 1),
    (pgd_eps_0001, eps_title('PGD Attack', '0.001'), BLUE, 2, 2),
]

col_dom = [[0.0527, 0.3276], [0.3787, 0.6536], [0.7044, 0.9793]]
row_dom = [[0.729, 0.949], [0.4033, 0.6233], [0.0777, 0.2977]]

fig = go.Figure()
annotations = []
layout_axes = {}

for i, (vals, title, color, row, col) in enumerate(panels, start=1):
    t = np.linspace(0, 0.2, len(vals))
    fig.add_trace(go.Scatter(x=t, y=vals, mode='lines',
                             line=dict(color=color, width=6),
                             xaxis=f'x{i}', yaxis=f'y{i}',
                             showlegend=False, hoverinfo='skip'))

    common = dict(showline=True, mirror=True, linecolor='black', linewidth=3.3,
                  ticks='outside', ticklen=15, tickwidth=3.3, tickcolor='black',
                  showgrid=False, zeroline=False)
    layout_axes[f'xaxis{i}'] = dict(
        domain=col_dom[col], anchor=f'y{i}', range=[-0.01, 0.21],
        tickvals=x_tickvals, ticktext=x_ticktext, showticklabels=(row != 1),
        ticklabelstandoff=-14,
        tickfont=dict(family=SANS, size=57, color='black'), **common)
    layout_axes[f'yaxis{i}'] = dict(
        domain=row_dom[row], anchor=f'x{i}',
        range=[-1, 1] if row == 0 else [-1.1, 1.1],
        tickvals=y_tickvals, ticktext=y_ticktext,
        showticklabels=(col == 0 or row == 0),
        ticklabelstandoff=4,
        tickfont=dict(family=SERIF, size=65, color='black'), **common)

    xc = sum(col_dom[col]) / 2
    annotations.append(dict(text=title, x=xc, y=row_dom[row][1], xref='paper', yref='paper',
                            xanchor='center', yanchor='bottom', yshift=8, showarrow=False,
                            font=dict(family=SANS, size=74, color='black')))
    annotations.append(dict(text='Time', x=xc, y=row_dom[row][0], xref='paper', yref='paper',
                            xanchor='center', yanchor='top',
                            yshift=-16 if row == 1 else -92, showarrow=False,
                            font=dict(family=SANS, size=62, color='black')))

fig.update_layout(width=4500, height=3000, autosize=False,
                  margin=dict(l=0, r=0, t=0, b=0),
                  paper_bgcolor='white', plot_bgcolor='white',
                  annotations=annotations, **layout_axes)

# the browser viewport can be narrower than 4500 px: stretch the figure to fill it
fit_js = """
var gd = document.getElementById('{plot_id}');
document.body.style.margin = '0';
document.body.style.overflow = 'hidden';
var sx = window.innerWidth / 4500, sy = window.innerHeight / 3000;
if (sx !== 1 || sy !== 1) {
  gd.style.transformOrigin = '0 0';
  gd.style.transform = 'scale(' + sx + ',' + sy + ')';
}
"""

fig.write_html('out.html', post_script=fit_js, config={'displayModeBar': False})
